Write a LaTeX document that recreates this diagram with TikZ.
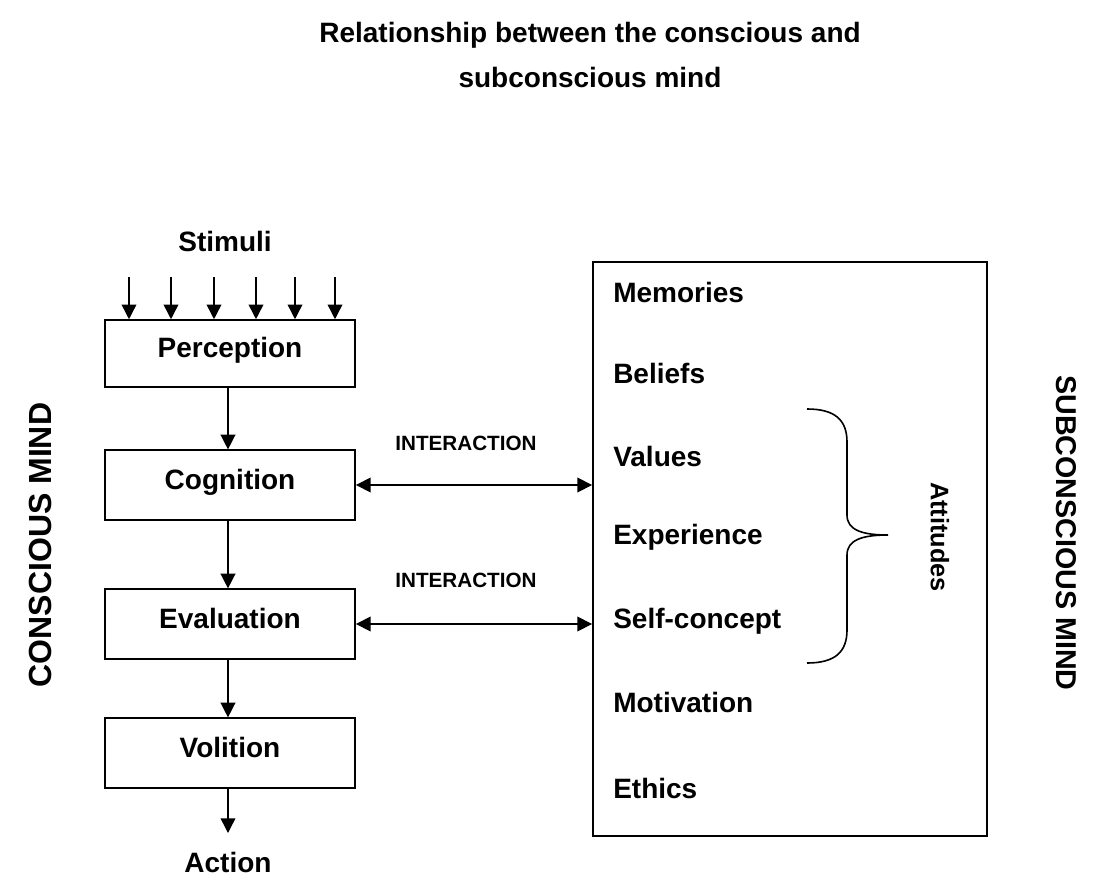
\documentclass[tikz,border=0pt]{standalone}
\usepackage{fontspec}
\setmainfont{Liberation Sans}
\usetikzlibrary{arrows.meta}
\begin{document}
\begin{tikzpicture}[x=0.75pt,y=-0.75pt,
  big/.style={font=\bfseries\fontsize{21}{25}\selectfont, inner sep=0pt},
  small/.style={font=\bfseries\fontsize{15.5}{18}\selectfont, inner sep=0pt},
  stagebox/.style={draw, line width=1.4pt, minimum width=187.5pt, minimum height=52pt,
    inner sep=0pt, text height=15pt, text depth=9pt,
    font=\bfseries\fontsize{21}{25}\selectfont},
  flow/.style={-{Triangle[length=11pt,width=11pt]}, line width=1.1pt},
  twoway/.style={{Triangle[length=11pt,width=11pt]}-{Triangle[length=11pt,width=11pt]}, line width=1.1pt},
  item/.style={big, anchor=west}
]
\useasboundingbox (0,0) rectangle (1095,892);

% title
\node[big] (title1) at (590,35) {Relationship between the conscious and};
\node[big] (title2) at (590,77) {subconscious mind};

% conscious side
\node[big] (stimuli) at (225,241) {Stimuli};
\node[stagebox, minimum height=50pt] (perc) at (230,353.5) {Perception};
\node[stagebox] (cog) at (230,485) {Cognition};
\node[stagebox] (eva) at (230,624) {Evaluation};
\node[stagebox] (vol) at (230,753) {Volition};
\node[big] (action) at (228,862) {Action};
\coordinate (actend) at (228,833);

\foreach \i/\x in {1/129,2/171,3/214,4/256,5/295,6/335}{
  \coordinate (s\i) at (\x,277);
  \draw[flow] (s\i) -- (s\i |- perc.north);
}
\draw[flow] (perc.south -| 228,0) -- (cog.north -| 228,0);
\draw[flow] (cog.south -| 228,0) -- (eva.north -| 228,0);
\draw[flow] (eva.south -| 228,0) -- (vol.north -| 228,0);
\draw[flow] (vol.south -| actend) -- (actend);

% subconscious side
\node[draw, line width=1.4pt, minimum width=295.5pt, minimum height=430.5pt, inner sep=0pt]
  (sub) at (790,549) {};
\node[item] (memories) at (613,292) {Memories};
\node[item] (beliefs) at (613,373) {Beliefs};
\node[item] (values) at (613,456) {Values};
\node[item] (experience) at (613,537) {Experience};
\node[item] (selfconcept) at (613,621) {Self-concept};
\node[item] (motivation) at (613,702) {Motivation};
\node[item] (ethics) at (613,788) {Ethics};

% interaction
\node[small] (int1) at (466,443) {INTERACTION};
\node[small] (int2) at (466,580) {INTERACTION};
\draw[twoway] (cog.east) -- (cog.east -| sub.west);
\draw[twoway] (eva.east) -- (eva.east -| sub.west);

% brace grouping the attitudes
\draw[line width=1.2pt]
  (807,409) .. controls (835,409) and (847,420) .. (847,442)
  -- (847,515) .. controls (847,530) and (862,535) .. (888,535)
  .. controls (862,535) and (847,540) .. (847,555)
  -- (847,630) .. controls (847,652) and (835,663) .. (807,663);
\node[font=\bfseries\fontsize{19}{22}\selectfont, inner sep=0pt, rotate=-90] (attitudes) at (940,537) {Attitudes};

% side labels
\node[font=\bfseries\fontsize{24}{28}\selectfont, inner sep=0pt, rotate=90] (cmind) at (40,545) {CONSCIOUS MIND};
\node[font=\bfseries\fontsize{21.5}{25}\selectfont, inner sep=0pt, rotate=-90] (smind) at (1066,533) {SUBCONSCIOUS MIND};
\end{tikzpicture}
\end{document}
